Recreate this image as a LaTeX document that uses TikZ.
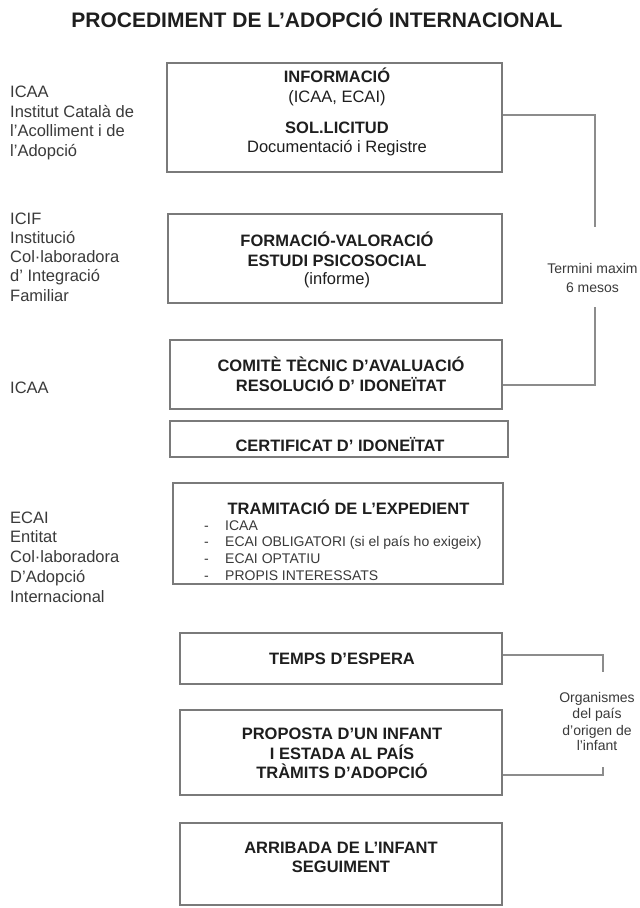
\documentclass[tikz,border=0pt]{standalone}
\usepackage{fontspec}
\setmainfont{Liberation Sans}
\definecolor{boxgray}{HTML}{7A7A7A}
\definecolor{linegray}{HTML}{8C8C8C}
\definecolor{txt}{HTML}{1E1E1E}
\definecolor{labtxt}{HTML}{3A3A3A}
\begin{document}
\begin{tikzpicture}[x=1pt,y=-1pt,
  boxstyle/.style={draw=boxgray,line width=1.8pt,inner sep=0pt,fill=none},
  btext/.style={font=\fontsize{16.5}{19.5}\selectfont\bfseries,anchor=base,text=txt,inner sep=0pt},
  ntext/.style={font=\fontsize{16.5}{19.5}\selectfont,anchor=base,text=txt,inner sep=0pt},
  itemtext/.style={font=\fontsize{14}{16}\selectfont,anchor=base west,text=labtxt,inner sep=0pt},
  lab/.style={font=\fontsize{16.5}{19.5}\selectfont,anchor=base west,text=labtxt,inner sep=0pt},
  note/.style={font=\fontsize{14}{16}\selectfont,anchor=base,text=labtxt,inner sep=0pt},
  bracket/.style={draw=linegray,line width=1.6pt}]
\useasboundingbox[fill=white] (0,0) rectangle (640,908);

% title
\node[font=\fontsize{21}{24}\selectfont\bfseries,anchor=base,text=txt,inner sep=0pt] (title) at (317,27) {PROCEDIMENT DE L'ADOPCIÓ INTERNACIONAL};

% boxes
\node[boxstyle,minimum width=335pt,minimum height=109pt] (b1) at (334.5,117.5) {};
\node[boxstyle,minimum width=334pt,minimum height=89pt] (b2) at (335,258.5) {};
\node[boxstyle,minimum width=332pt,minimum height=69pt] (b3) at (336,374.5) {};
\node[boxstyle,minimum width=338pt,minimum height=36pt] (b4) at (339,439) {};
\node[boxstyle,minimum width=330pt,minimum height=101pt] (b5) at (338,533.5) {};
\node[boxstyle,minimum width=322pt,minimum height=51pt] (b6) at (341,658.5) {};
\node[boxstyle,minimum width=322pt,minimum height=85pt] (b7) at (341,752.5) {};
\node[boxstyle,minimum width=322pt,minimum height=82pt] (b8) at (341,864) {};

% box 1
\node[btext] (t1a) at (337,82) {INFORMACIÓ};
\node[ntext] (t1b) at (337,102) {(ICAA, ECAI)};
\node[btext] (t1c) at (337,133) {SOL.LICITUD};
\node[ntext] (t1d) at (337,152) {Documentació i Registre};
% box 2
\node[btext] (t2a) at (337,246) {FORMACIÓ-VALORACIÓ};
\node[btext] (t2b) at (337,266) {ESTUDI PSICOSOCIAL};
\node[ntext] (t2c) at (337,284) {(informe)};
% box 3
\node[btext] (t3a) at (341,371) {COMITÈ TÈCNIC D'AVALUACIÓ};
\node[btext] (t3b) at (341,391) {RESOLUCIÓ D' IDONEÏTAT};
% box 4
\node[btext] (t4a) at (340,451) {CERTIFICAT D' IDONEÏTAT};
% box 5
\node[btext] (t5a) at (348.5,514) {TRAMITACIÓ DE L'EXPEDIENT};
\node[itemtext] (d1) at (204,530) {-};
\node[itemtext] (i1) at (225,530) {ICAA};
\node[itemtext] (d2) at (204,546) {-};
\node[itemtext] (i2) at (225,546) {ECAI OBLIGATORI (si el país ho exigeix)};
\node[itemtext] (d3) at (204,563) {-};
\node[itemtext] (i3) at (225,563) {ECAI OPTATIU};
\node[itemtext] (d4) at (204,580) {-};
\node[itemtext] (i4) at (225,580) {PROPIS INTERESSATS};
% box 6
\node[btext] (t6a) at (342,664) {TEMPS D'ESPERA};
% box 7
\node[btext] (t7a) at (342,739) {PROPOSTA D'UN INFANT};
\node[btext] (t7b) at (342,759) {I ESTADA AL PAÍS};
\node[btext] (t7c) at (342,778) {TRÀMITS D'ADOPCIÓ};
% box 8
\node[btext] (t8a) at (341,853) {ARRIBADA DE L'INFANT};
\node[btext] (t8b) at (341,872) {SEGUIMENT};

% left labels
\node[lab] (l1a) at (10,97.5) {ICAA};
\node[lab] (l1b) at (10,117) {Institut Català de};
\node[lab] (l1c) at (10,136.5) {l'Acolliment i de};
\node[lab] (l1d) at (10,156) {l'Adopció};

\node[lab] (l2a) at (10,224) {ICIF};
\node[lab] (l2b) at (10,243.3) {Institució};
\node[lab] (l2c) at (10,262.6) {Col·laboradora};
\node[lab] (l2d) at (10,281.9) {d' Integració};
\node[lab] (l2e) at (10,301.2) {Familiar};

\node[lab] (l3a) at (10,393) {ICAA};

\node[lab] (l4a) at (10,523) {ECAI};
\node[lab] (l4b) at (10,542.8) {Entitat};
\node[lab] (l4c) at (10,562.6) {Col·laboradora};
\node[lab] (l4d) at (10,582.4) {D'Adopció};
\node[lab] (l4e) at (10,602.2) {Internacional};

% right notes
\node[note] (n1a) at (592.5,273) {Termini maxim};
\node[note] (n1b) at (592.5,292) {6 mesos};
\node[note] (n2a) at (597,702) {Organismes};
\node[note] (n2b) at (597,718) {del país};
\node[note] (n2c) at (597,735) {d'origen de};
\node[note] (n2d) at (597,750) {l'infant};

% brackets
\coordinate (r1a) at (595,227);
\coordinate (r1b) at (595,307);
\draw[bracket] ([yshift=2.5pt]b1.east) -| (r1a);
\draw[bracket] (r1b) |- ([yshift=-10.5pt]b3.east);
\coordinate (r2a) at (603,672);
\coordinate (r2b) at (603,767);
\draw[bracket] ([yshift=3.5pt]b6.east) -| (r2a);
\draw[bracket] (r2b) |- ([yshift=-22.5pt]b7.east);
\end{tikzpicture}
\end{document}
